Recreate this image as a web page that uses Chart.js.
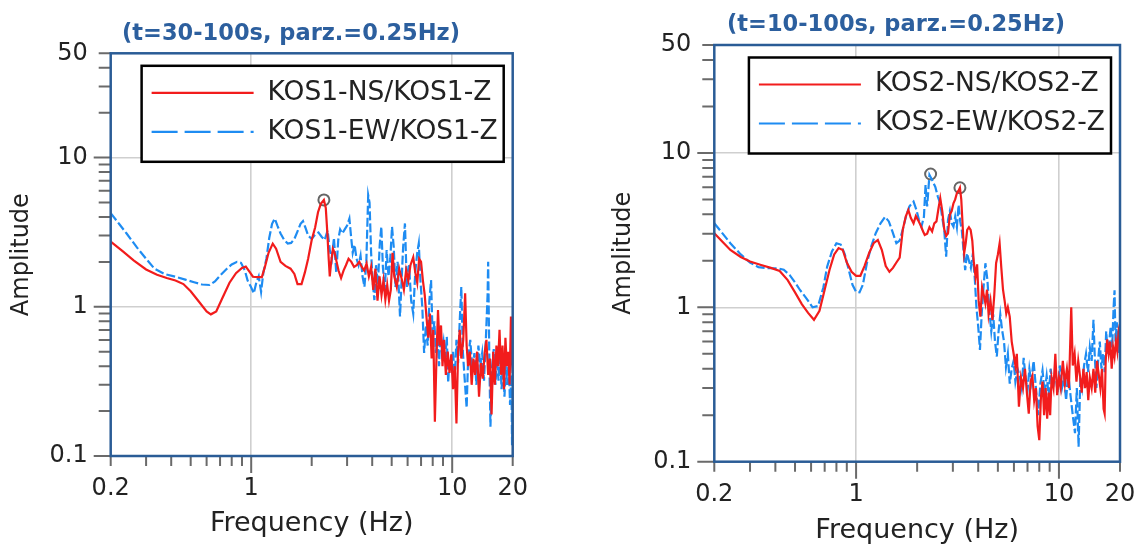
<!DOCTYPE html>
<html>
<head>
<meta charset="utf-8">
<script src="https://cdn.jsdelivr.net/npm/chart.js@4.4.1/dist/chart.umd.min.js"></script>
<style>
  html, body { margin: 0; padding: 0; background: #fff; }
  #wrap { position: relative; width: 1142px; height: 545px; overflow: hidden; }
  canvas { position: absolute; top: 0; }
</style>
</head>
<body>
<div id="wrap">
  <canvas id="c1" width="560" height="545" style="left:0"></canvas>
  <canvas id="c2" width="582" height="545" style="left:560px"></canvas>
</div>
<script>
// ---- axis ticks ----
const X_TICKS = [0.2, 0.3, 0.4, 0.5, 0.6, 0.7, 0.8, 0.9, 1, 2, 3, 4, 5, 6, 7, 8, 9, 10, 20];
const X_LABELS = [0.2, 1, 10, 20];
const X_MAJOR = [1, 10];
const Y_TICKS = [0.1, 0.2, 0.3, 0.4, 0.5, 0.6, 0.7, 0.8, 0.9, 1, 2, 3, 4, 5, 6, 7, 8, 9, 10, 20, 30, 40, 50];
const Y_LABELS = [0.1, 1, 10, 50];
const Y_MAJOR = [0.1, 1, 10];

// ---- panel 1 : KOS1 ----
const TITLE1 = "(t=30-100s, parz.=0.25Hz)";
const NAMES1 = ["KOS1-NS/KOS1-Z", "KOS1-EW/KOS1-Z"];
const NS1_F = [0.2,0.23,0.26,0.3,0.34,0.38,0.42,0.46,0.5,0.55,0.6,0.63,0.67,0.72,0.78,0.84,0.9,0.94,0.98,1.02,1.08,1.13,1.17,1.22,1.28,1.33,1.4,1.48,1.57,1.64,1.7,1.78,1.85,1.92,2.0,2.08,2.15,2.22,2.3,2.35,2.39,2.43,2.46,2.5,2.55,2.6,2.66,2.72,2.8,2.88,2.96,3.05,3.15,3.25,3.35,3.45,3.55,3.65,3.75,3.85,3.95,4.05,4.15,4.25,4.35,4.45,4.55,4.65,4.75,4.85,4.95,5.05,5.15,5.3,5.45,5.6,5.75,5.9,6.05,6.2,6.4,6.55,6.7,6.85,7.0,7.15,7.3,7.45,7.6,7.75,7.9,8.05,8.2,8.35,8.5,8.65,8.8,8.95,9.1,9.3,9.5,9.7,9.9,10.1,10.3,10.5,10.7,10.9,11.1,11.35,11.6,11.8,12.0,12.25,12.5,12.75,13.0,13.3,13.6,13.9,14.2,14.5,14.8,15.1,15.4,15.7,16.0,16.3,16.6,16.9,17.2,17.5,17.8,18.1,18.4,18.7,19.0,19.3,19.6,19.8,20.0];
const NS1_A = [2.73,2.35,2.05,1.78,1.64,1.56,1.5,1.42,1.27,1.08,0.93,0.89,0.93,1.15,1.45,1.68,1.82,1.86,1.72,1.59,1.58,1.58,1.85,2.3,2.65,2.45,2.0,1.88,1.8,1.66,1.42,1.42,1.7,2.1,2.8,3.4,4.3,4.9,5.2,4.6,3.2,2.1,1.6,2.0,2.45,2.3,2.0,1.75,1.56,1.75,1.9,2.1,2.0,1.85,1.9,2.0,1.85,1.75,1.95,1.6,1.85,1.3,1.8,1.1,1.6,1.2,1.5,1.12,1.4,1.1,1.3,2.3,1.6,1.36,1.8,1.55,1.3,1.76,1.5,1.9,2.15,1.7,1.45,2.1,2.0,1.5,1.2,0.85,0.62,0.9,0.45,0.7,0.17,0.45,0.95,0.55,0.75,0.4,0.6,0.35,0.5,0.36,0.48,0.28,0.4,0.165,0.5,0.7,0.45,0.6,1.23,0.55,0.4,0.5,0.3,0.45,0.35,0.5,0.25,0.42,0.33,0.49,0.6,0.35,0.45,0.19,0.5,0.3,0.55,0.4,0.7,0.35,0.55,0.28,0.62,0.4,0.5,0.3,0.86,0.45,0.36];
const EW1_F = [0.2,0.22,0.24,0.27,0.3,0.33,0.37,0.42,0.47,0.52,0.57,0.62,0.66,0.7,0.75,0.8,0.85,0.89,0.93,0.96,1.0,1.03,1.06,1.09,1.12,1.15,1.19,1.23,1.27,1.31,1.35,1.4,1.46,1.52,1.58,1.64,1.7,1.76,1.81,1.86,1.92,2.0,2.08,2.16,2.24,2.32,2.4,2.46,2.52,2.58,2.65,2.71,2.77,2.84,2.92,3.0,3.08,3.14,3.2,3.27,3.34,3.42,3.5,3.58,3.66,3.74,3.82,3.88,3.95,4.02,4.1,4.18,4.27,4.36,4.44,4.52,4.62,4.72,4.82,4.92,5.02,5.12,5.22,5.35,5.5,5.6,5.7,5.82,5.95,6.1,6.25,6.4,6.55,6.7,6.82,6.95,7.1,7.25,7.4,7.55,7.7,7.85,8.0,8.15,8.3,8.45,8.6,8.75,8.9,9.05,9.2,9.4,9.55,9.7,9.9,10.1,10.3,10.5,10.7,10.9,11.1,11.3,11.5,11.8,12.0,12.3,12.6,12.9,13.2,13.5,13.8,14.1,14.4,14.7,15.0,15.1,15.3,15.5,15.8,16.1,16.4,16.7,17.0,17.3,17.6,17.9,18.2,18.5,18.8,19.1,19.4,19.7,19.85,20.0];
const EW1_A = [4.24,3.6,3.1,2.5,2.1,1.8,1.66,1.59,1.52,1.46,1.41,1.4,1.48,1.62,1.78,1.92,2.0,1.97,1.75,1.5,1.35,1.23,1.45,1.6,1.26,1.7,2.1,2.9,3.6,3.9,3.5,3.1,2.8,2.65,2.68,2.85,3.2,3.6,3.75,3.4,3.0,2.85,3.05,3.15,2.95,2.8,3.25,2.4,2.1,2.9,1.68,2.8,3.3,3.1,3.3,3.5,3.9,2.95,2.3,2.6,2.11,1.9,2.2,1.6,1.36,2.0,5.6,5.0,2.3,1.5,1.11,1.9,1.4,2.6,3.44,1.86,1.27,2.4,1.6,2.1,3.44,2.5,1.36,2.0,0.86,1.5,2.5,3.62,1.36,1.9,1.1,0.9,1.7,2.3,2.66,1.5,1.0,0.49,0.75,0.55,1.1,1.51,0.6,0.8,0.49,0.65,0.4,0.7,0.5,0.58,0.42,0.63,0.31,0.45,0.39,0.5,0.33,0.6,0.42,0.8,1.36,0.5,0.35,0.21,0.45,0.6,0.38,0.49,0.3,0.55,0.4,0.49,0.32,0.6,1.2,2.0,0.45,0.157,0.4,0.52,0.3,0.45,0.32,0.5,0.28,0.42,0.25,0.4,0.3,0.45,0.22,0.35,0.118,0.25];
const PK1_F = [2.3];
const PK1_A = [5.2];

// ---- panel 2 : KOS2 ----
const TITLE2 = "(t=10-100s, parz.=0.25Hz)";
const NAMES2 = ["KOS2-NS/KOS2-Z", "KOS2-EW/KOS2-Z"];
const NS2_F = [0.2,0.22,0.24,0.27,0.3,0.34,0.38,0.42,0.46,0.5,0.54,0.58,0.62,0.66,0.7,0.74,0.78,0.82,0.86,0.9,0.95,1.0,1.05,1.1,1.16,1.22,1.28,1.34,1.4,1.46,1.52,1.58,1.64,1.7,1.76,1.81,1.86,1.92,1.97,2.02,2.08,2.14,2.18,2.24,2.3,2.37,2.43,2.49,2.55,2.6,2.66,2.72,2.78,2.84,2.9,2.96,3.02,3.08,3.14,3.2,3.25,3.3,3.36,3.41,3.47,3.53,3.6,3.67,3.74,3.8,3.88,3.95,4.02,4.1,4.18,4.26,4.34,4.42,4.5,4.6,4.7,4.8,4.9,5.0,5.1,5.2,5.3,5.4,5.5,5.6,5.72,5.85,5.98,6.1,6.2,6.35,6.5,6.65,6.8,6.95,7.1,7.25,7.4,7.55,7.7,7.85,8.0,8.15,8.3,8.45,8.6,8.75,8.9,9.05,9.2,9.4,9.6,9.8,10.0,10.2,10.45,10.7,10.95,11.2,11.5,11.7,11.95,12.2,12.45,12.7,12.95,13.2,13.45,13.7,13.95,14.2,14.5,14.8,15.1,15.4,15.7,16.0,16.3,16.6,16.8,17.0,17.3,17.6,17.9,18.2,18.5,18.8,19.1,19.4,19.7,20.0];
const NS2_A = [3.02,2.65,2.35,2.12,1.98,1.88,1.8,1.72,1.5,1.25,1.05,0.92,0.83,0.95,1.3,1.75,2.2,2.42,2.35,1.95,1.7,1.6,1.6,1.85,2.25,2.6,2.73,2.35,1.85,1.7,1.8,1.95,2.1,3.2,3.9,4.27,3.8,3.5,3.9,3.67,3.4,3.1,2.94,3.0,3.3,3.1,3.5,3.6,4.4,5.09,4.2,3.2,2.9,3.02,4.0,4.2,4.72,5.0,5.48,5.7,5.95,5.0,3.2,2.24,2.6,3.17,3.3,3.17,2.7,2.0,1.58,1.9,1.1,0.87,1.35,1.2,1.06,1.3,0.9,1.1,0.83,1.2,1.93,2.2,2.6,1.8,1.3,1.1,0.91,1.0,0.87,0.6,0.5,0.42,0.5,0.227,0.35,0.3,0.4,0.28,0.205,0.33,0.36,0.25,0.3,0.17,0.138,0.26,0.33,0.2,0.3,0.19,0.28,0.2,0.35,0.3,0.5,0.27,0.35,0.3,0.45,0.32,0.4,0.3,1.0,0.42,0.5,0.33,0.45,0.36,0.28,0.4,0.3,0.38,0.25,0.35,0.3,0.4,0.28,0.45,0.37,0.3,0.4,0.22,0.205,0.45,0.62,0.5,0.6,0.4,0.55,0.48,0.6,0.52,0.7,0.64];
const EW2_F = [0.2,0.22,0.24,0.27,0.3,0.33,0.37,0.41,0.44,0.47,0.5,0.53,0.57,0.61,0.65,0.69,0.72,0.76,0.8,0.84,0.88,0.92,0.96,1.0,1.04,1.08,1.13,1.19,1.25,1.32,1.39,1.45,1.51,1.58,1.64,1.7,1.76,1.83,1.92,1.98,2.04,2.1,2.16,2.2,2.24,2.3,2.38,2.46,2.53,2.6,2.66,2.72,2.78,2.84,2.9,2.96,3.02,3.08,3.14,3.2,3.26,3.32,3.38,3.45,3.52,3.6,3.68,3.76,3.84,3.92,4.0,4.08,4.16,4.24,4.34,4.44,4.54,4.64,4.74,4.84,4.94,5.04,5.14,5.24,5.36,5.48,5.6,5.72,5.85,5.98,6.1,6.25,6.4,6.55,6.7,6.85,7.0,7.15,7.3,7.5,7.7,7.9,8.1,8.3,8.5,8.7,8.9,9.1,9.35,9.6,9.85,10.1,10.35,10.6,10.85,11.1,11.4,11.7,12.0,12.25,12.5,12.75,13.0,13.3,13.6,13.9,14.2,14.5,14.8,15.0,15.3,15.6,15.9,16.2,16.5,16.8,17.1,17.4,17.7,18.0,18.3,18.6,18.8,19.0,19.3,19.6,19.8,20.0];
const EW2_A = [3.5,3.0,2.6,2.2,1.95,1.82,1.79,1.79,1.75,1.62,1.45,1.29,1.14,1.0,1.02,1.35,1.83,2.3,2.6,2.55,2.2,1.75,1.4,1.26,1.25,1.4,1.93,2.5,3.02,3.5,3.86,3.6,3.1,2.6,2.7,3.2,3.86,4.5,4.83,4.3,3.7,3.33,3.86,6.2,4.5,7.2,6.6,6.0,5.2,4.72,3.8,3.17,2.13,3.7,4.2,3.5,3.33,3.86,3.3,4.6,3.6,3.17,2.4,1.74,2.24,2.0,1.8,2.2,1.6,1.0,0.75,0.53,0.9,1.3,1.93,1.5,0.95,0.7,0.9,0.6,0.48,0.7,0.9,0.72,0.6,0.41,0.5,0.32,0.4,0.45,0.33,0.4,0.36,0.3,0.47,0.35,0.29,0.4,0.33,0.45,0.3,0.2,0.32,0.39,0.28,0.36,0.27,0.4,0.3,0.38,0.28,0.42,0.3,0.35,0.25,0.38,0.27,0.2,0.153,0.3,0.125,0.35,0.3,0.42,0.5,0.38,0.55,0.45,0.83,0.5,0.3,0.45,0.6,0.4,0.5,0.38,0.7,0.5,0.6,0.75,0.55,1.0,1.29,0.6,0.8,0.5,0.65,0.54];
const PK2_F = [2.33, 3.25];
const PK2_A = [7.3, 5.95];

const RED = "#f21c1c";
const BLUE = "#1e8cf2";
const FRAME = "#2a5c96";
const GRID = "#cfcfcf";
const TICK = "#6a6a6a";
const TEXT = "#222222";
const FONT = "'DejaVu Sans', sans-serif";

Chart.defaults.font.family = FONT;

function pts(f, a) {
    return f.map((x, i) => ({ x: x, y: a[i] }));
}

// frame, custom tick marks, legend box and title
const deco = {
    id: "deco",
    beforeDatasetsDraw(chart) {
        const ctx = chart.ctx;
        const a = chart.chartArea;
        const xs = chart.scales.x, ys = chart.scales.y;
        ctx.save();
        ctx.strokeStyle = TICK;
        ctx.lineWidth = 2;
        ctx.beginPath();
        xs.ticks.forEach(t => {
            const px = xs.getPixelForValue(t.value);
            const len = X_MAJOR.includes(t.value) ? 17 : 10;
            ctx.moveTo(px, a.bottom);
            ctx.lineTo(px, a.bottom + len);
        });
        ys.ticks.forEach(t => {
            const py = ys.getPixelForValue(t.value);
            const len = Y_MAJOR.includes(t.value) ? 17 : 12;
            ctx.moveTo(a.left - len, py);
            ctx.lineTo(a.left, py);
        });
        ctx.stroke();
        ctx.restore();
    },
    afterDatasetsDraw(chart, args, opts) {
        const ctx = chart.ctx;
        const a = chart.chartArea;
        ctx.save();
        // plot frame
        ctx.strokeStyle = FRAME;
        ctx.lineWidth = 2.5;
        ctx.strokeRect(a.left, a.top, a.right - a.left, a.bottom - a.top);

        // legend
        const ds = chart.data.datasets.slice(0, 2);
        ctx.font = "26.5px " + FONT;
        const maxW = Math.max(...ds.map(d => ctx.measureText(d.label).width));
        const bw = 126 + maxW + 6, bh = 96;
        const bx = a.right - 9 - bw, by = a.top + 12.5;
        ctx.fillStyle = "#fff";
        ctx.fillRect(bx, by, bw, bh);
        ctx.strokeStyle = "#000";
        ctx.lineWidth = 2.5;
        ctx.strokeRect(bx, by, bw, bh);
        ds.forEach((d, i) => {
            const ry = by + 27 + i * 39;
            ctx.strokeStyle = d.borderColor;
            ctx.lineWidth = 2.2;
            ctx.setLineDash(i === 1 ? [26, 7] : []);
            ctx.beginPath();
            ctx.moveTo(bx + 10, ry);
            ctx.lineTo(bx + 112, ry);
            ctx.stroke();
            ctx.setLineDash([]);
            ctx.fillStyle = TEXT;
            ctx.textAlign = "left";
            ctx.textBaseline = "middle";
            ctx.fillText(d.label, bx + 126, ry);
        });

        // title
        ctx.font = "bold 22.5px " + FONT;
        ctx.fillStyle = "#2c5f9e";
        ctx.textAlign = "center";
        ctx.textBaseline = "middle";
        ctx.fillText(opts.text, opts.x, opts.y);
        ctx.restore();
    }
};

function makePanel(id, o) {
    return new Chart(document.getElementById(id), {
        type: "line",
        data: {
            datasets: [
                { label: o.names[0], data: pts(o.ns[0], o.ns[1]), borderColor: RED, borderWidth: 2.2, pointRadius: 0, tension: 0, fill: false },
                { label: o.names[1], data: pts(o.ew[0], o.ew[1]), borderColor: BLUE, borderWidth: 2.2, borderDash: [9, 3], pointRadius: 0, tension: 0, fill: false },
                { label: "peak", data: pts(o.pk[0], o.pk[1]), showLine: false, pointStyle: "circle", pointRadius: 5.5,
                  borderColor: "#666", pointBorderColor: "#666", pointBorderWidth: 2, pointBackgroundColor: "rgba(0,0,0,0)" }
            ]
        },
        options: {
            responsive: false,
            animation: false,
            events: [],
            layout: { padding: o.pad },
            plugins: {
                legend: { display: false },
                tooltip: { enabled: false },
                deco: { text: o.title, x: o.titleX, y: o.titleY }
            },
            scales: {
                x: {
                    type: "logarithmic", min: 0.2, max: 20,
                    afterBuildTicks: s => { s.ticks = X_TICKS.map(v => ({ value: v })); },
                    afterFit: s => { s.height = o.xH; },
                    ticks: {
                        autoSkip: false, maxRotation: 0, padding: 4, color: TEXT,
                        font: { size: 24, lineHeight: 1 },
                        callback: v => X_LABELS.includes(v) ? String(v) : ""
                    },
                    grid: {
                        color: c => (c.tick && X_MAJOR.includes(c.tick.value)) ? GRID : "rgba(0,0,0,0)",
                        lineWidth: 1.6, tickLength: 17, tickColor: "rgba(0,0,0,0)"
                    },
                    border: { display: false },
                    title: { display: true, text: "Frequency (Hz)", color: TEXT, font: { size: 27, lineHeight: 1 }, padding: { top: 0, bottom: o.xTitlePad } }
                },
                y: {
                    type: "logarithmic", min: 0.1, max: 50,
                    afterBuildTicks: s => { s.ticks = Y_TICKS.map(v => ({ value: v })); },
                    afterFit: s => { s.width = o.yW; },
                    ticks: {
                        autoSkip: false, padding: 6, color: TEXT,
                        font: { size: 24, lineHeight: 1 },
                        callback: v => Y_LABELS.includes(v) ? String(v) : ""
                    },
                    grid: {
                        color: c => (c.tick && X_MAJOR.includes(c.tick.value)) ? GRID : "rgba(0,0,0,0)",
                        lineWidth: 1.6, tickLength: 17, tickColor: "rgba(0,0,0,0)"
                    },
                    border: { display: false },
                    title: { display: true, text: "Amplitude", color: TEXT, font: { size: 24, lineHeight: 1.2 }, padding: { top: o.yTitlePad, bottom: 0 } }
                }
            }
        },
        plugins: [deco]
    });
}

makePanel("c1", {
    names: NAMES1, ns: [NS1_F, NS1_A], ew: [EW1_F, EW1_A], pk: [PK1_F, PK1_A],
    title: TITLE1, titleX: 291, titleY: 34,
    pad: { left: 0, top: 53.3, right: 47.3, bottom: 0 },
    yW: 110.7, xH: 89, yTitlePad: 7.6, xTitlePad: 7.5
});

makePanel("c2", {
    names: NAMES2, ns: [NS2_F, NS2_A], ew: [EW2_F, EW2_A], pk: [PK2_F, PK2_A],
    title: TITLE2, titleX: 336, titleY: 25,
    pad: { left: 0, top: 45, right: 22, bottom: 0 },
    yW: 154.3, xH: 83.3, yTitlePad: 49.3, xTitlePad: 0.5
});
</script>
</body>
</html>
